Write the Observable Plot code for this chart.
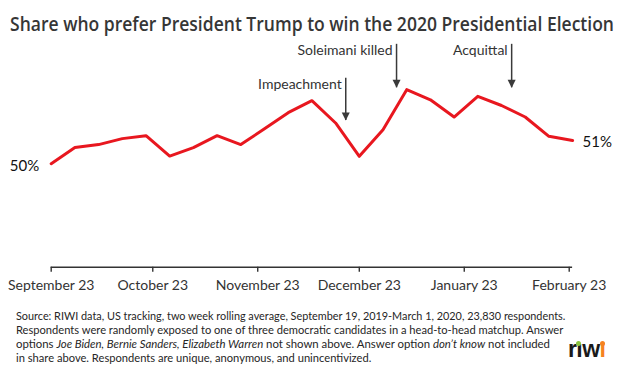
<!DOCTYPE html>
<html><head><meta charset="utf-8">
<script src="https://cdn.jsdelivr.net/npm/d3@7"></script>
<script src="https://cdn.jsdelivr.net/npm/@observablehq/plot@0.6"></script>
<style>
html,body{margin:0;padding:0;background:#fff;}
#wrap{position:relative;width:617px;height:370px;overflow:hidden;}
#title{position:absolute;left:10px;top:12px;font-family:"Open Sans";font-weight:600;font-size:19px;line-height:24px;color:#363636;white-space:nowrap;transform-origin:0 0;width:max-content;}
#chart{position:absolute;left:0;top:40px;}
#chart svg{overflow:visible;}
#caption{position:absolute;left:15.7px;top:309px;font-family:Lato;font-size:11px;line-height:14px;color:#262626;}
#caption .ln{display:block;white-space:nowrap;transform-origin:0 0;width:max-content;}
#logo{position:absolute;left:568px;top:335px;font-family:"Liberation Sans";font-weight:bold;font-size:23px;line-height:28px;letter-spacing:-0.6px;color:#1a1a1a;white-space:nowrap;}
.dot{position:absolute;width:5px;height:5px;border-radius:50%;}
</style>
</head><body>
<div id="wrap">
  <div id="title">Share who prefer President Trump to win the 2020 Presidential Election</div>
  <div id="chart"></div>
  <div id="caption">
    <span class="ln">Source: RIWI data, US tracking, two week rolling average, September 19, 2019-March 1, 2020, 23,830 respondents.</span>
    <span class="ln">Respondents were randomly exposed to one of three democratic candidates in a head-to-head matchup. Answer</span>
    <span class="ln">options <i>Joe Biden, Bernie Sanders, Elizabeth Warren</i> not shown above. Answer option <i>don’t know</i> not included</span>
    <span class="ln">in share above. Respondents are unique, anonymous, and unincentivized.</span>
  </div>
  <div id="logo"><span id="l1">r</span><span id="i1">ı</span><span>w</span><span id="i2" style="color:#f58220">ı</span></div>
</div>
<script>
// ---- data ----
const weeks = ["2019-09-23","2019-09-30","2019-10-07","2019-10-14","2019-10-21","2019-10-28","2019-11-04","2019-11-11","2019-11-18","2019-11-25","2019-12-02","2019-12-09","2019-12-16","2019-12-23","2019-12-30","2020-01-06","2020-01-13","2020-01-20","2020-01-27","2020-02-03","2020-02-10","2020-02-17","2020-02-24"];
const shareTrump = [50.00,50.70,50.83,51.09,51.22,50.33,50.70,51.22,50.83,51.52,52.22,52.74,51.77,50.32,51.48,53.22,52.78,52.03,52.93,52.53,52.03,51.19,51.01];
const tickDates = ["2019-09-23","2019-10-23","2019-11-23","2019-12-23","2020-01-23","2020-02-23"];
const tickLabels = ["September 23","October 23","November 23","December 23","January 23","February 23"];
const eventLabels = ["Impeachment","Soleimani killed","Acquittal"];
const eventDates = ["2019-12-19","2020-01-03","2020-02-06"];
const eventArrowTop = [53.72,55.19,55.19];
const eventArrowTip = [51.88,53.30,53.30];
const xDomain = ["2019-09-23","2020-02-24"];
const yDomain = [45.5,54.5];

const parse = d3.utcParse("%Y-%m-%d");
const rows = weeks.map((w,i)=>({date: parse(w), value: shareTrump[i]}));
const ticks = tickDates.map(parse);
const events = eventLabels.map((l,i)=>({label:l, date:parse(eventDates[i]), top:eventArrowTop[i], tip:eventArrowTip[i]}));
const downTriangle = {draw(ctx){ctx.moveTo(-4,-8);ctx.lineTo(4,-8);ctx.lineTo(0,0);ctx.closePath();}};

const chart = Plot.plot({
  width: 617, height: 260,
  marginLeft: 50.7, marginRight: 44.9, marginTop: 19.7, marginBottom: 33.3,
  x: {type: "utc", domain: xDomain.map(parse)},
  y: {domain: yDomain, axis: null},
  style: {fontFamily: "Lato", fontSize: "14px", color: "#333", background: "transparent", overflow: "visible"},
  marks: [
    Plot.ruleY([yDomain[0]], {stroke: "#333", strokeWidth: 1.4}),
    Plot.axisX({ticks: ticks, tickFormat: d => tickLabels[ticks.findIndex(t => +t === +d)], tickSize: 5, tickPadding: 8, stroke: "#333", strokeWidth: 1.4, fontSize: 14, fill: "#333", label: null}),
    Plot.lineY(rows, {x: "date", y: "value", stroke: "#e8171f", strokeWidth: 3}),
    Plot.text([rows[0]], {x: "date", y: "value", text: d => Math.round(d.value) + "%", textAnchor: "end", dx: -12, dy: 2, fontSize: 15, fill: "#111"}),
    Plot.text([rows[rows.length-1]], {x: "date", y: "value", text: d => Math.round(d.value) + "%", textAnchor: "start", dx: 10, dy: 2, fontSize: 15, fill: "#111"}),
    Plot.ruleX(events, {x: "date", y1: "top", y2: "tip", stroke: "#3a3a3a", strokeWidth: 1.5}),
    Plot.dot(events, {x: "date", y: "tip", symbol: downTriangle, fill: "#3a3a3a", stroke: null, r: 4}),
    Plot.text(events, {x: "date", y: "top", text: "label", textAnchor: "end", lineAnchor: "top", dx: -4, dy: 1, fontSize: 14, fill: "#333"})
  ]
});
document.getElementById("chart").appendChild(chart);

// fit title / caption line widths to the reference layout
function fit(el, w){ const cw = el.getBoundingClientRect().width; el.style.transform = `scaleX(${w/cw})`; }
fit(document.getElementById("title"), 604);
const capW = [549.3, 547.3, 534, 355.3];
document.querySelectorAll("#caption .ln").forEach((el,i)=>fit(el, capW[i]));

// logo dots
const wrap = document.getElementById("wrap").getBoundingClientRect();
[["i1","#8cc63f"],["i2","#f58220"]].forEach(([id,c])=>{
  const r = document.getElementById(id).getBoundingClientRect();
  const d = document.createElement("div"); d.className = "dot"; d.style.background = c;
  d.style.left = (r.left - wrap.left + r.width/2 - 2.5 - 0.3) + "px"; d.style.top = "341px";
  document.getElementById("wrap").appendChild(d);
});
</script>
</body></html>
